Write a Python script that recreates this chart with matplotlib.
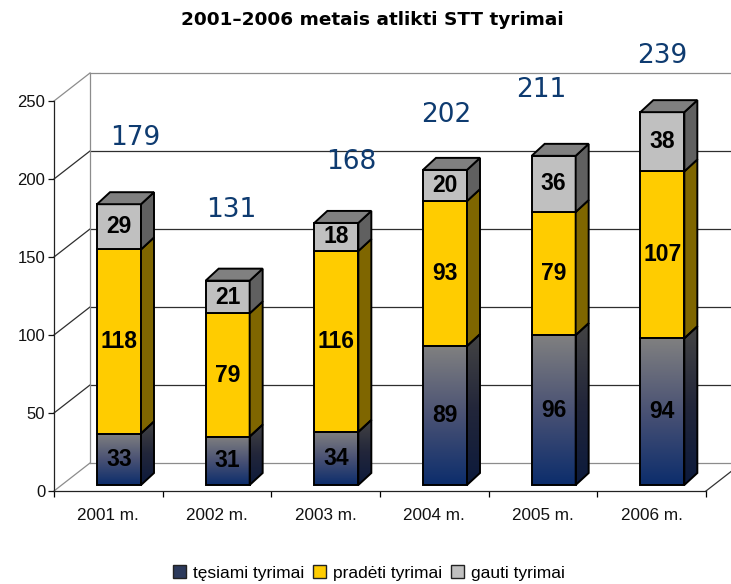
import numpy as np
import matplotlib
matplotlib.use("Agg")
import matplotlib.pyplot as plt
from matplotlib.patches import Polygon, Patch
from matplotlib.colors import LinearSegmentedColormap

# ---------------- data ----------------
categories = ["2001 m.", "2002 m.", "2003 m.", "2004 m.", "2005 m.", "2006 m."]
tesiami = [33, 31, 34, 89, 96, 94]
pradeti = [118, 79, 116, 93, 79, 107]
gauti = [29, 21, 18, 20, 36, 38]
totals = [179, 131, 168, 202, 211, 239]
series_names = ["tęsiami tyrimai", "pradėti tyrimai", "gauti tyrimai"]
title = "2001–2006 metais atlikti STT tyrimai"
yticks = [0, 50, 100, 150, 200, 250]

# label placement (category units / value units)
total_label_x = [0.745, 1.629, 2.733, 3.607, 4.482, 5.595]
total_label_y = [226, 180, 211, 241, 257, 279]

# ---------------- figure ----------------
W, H = 731, 584
fig = plt.figure(figsize=(W / 100, H / 100), dpi=100)
fig.patch.set_facecolor("white")
ax = fig.add_axes([54 / W, (H - 491) / H, 652 / W, 390 / H])
ax.set_xlim(0, 6)
ax.set_ylim(0, 250)
PX = 6 / 652      # data x per pixel
PY = 250 / 390    # data y per pixel

# 3D wall offsets
WDX, WDY = 36 * PX, 28 * PY
frame_c = "#8c8c8c"
grid_c = "#2e2e2e"
XR = 6 + WDX + 1

for y in yticks:
    c = frame_c if y in (0, 250) else grid_c
    ax.plot([0, WDX], [y, y + WDY], color=c, lw=0.9, clip_on=False, zorder=1)
    ax.plot([WDX, XR], [y + WDY, y + WDY], color=c, lw=0.9, clip_on=False, zorder=1)
ax.plot([WDX, WDX], [WDY, 250 + WDY], color=frame_c, lw=0.9, clip_on=False, zorder=1)
ax.plot([6, 6 + WDX], [0, WDY], color="#333333", lw=0.9, clip_on=False, zorder=1)

# axes styling
for s in ["top", "right"]:
    ax.spines[s].set_visible(False)
ax.spines["left"].set_color("#222222")
ax.spines["bottom"].set_color("#222222")
ax.spines["left"].set_linewidth(0.9)
ax.spines["bottom"].set_linewidth(0.9)
ax.set_yticks(yticks)
ax.tick_params(axis="y", direction="out", length=4.3, width=0.9, pad=2,
               labelsize=12, colors="#111111")
ax.set_xticks(np.arange(6) + 0.5)
ax.set_xticklabels(categories)
ax.set_xticks(np.arange(7), minor=True)
ax.tick_params(axis="x", which="major", length=0, pad=12, labelsize=12.3, colors="#111111")
ax.tick_params(axis="x", which="minor", length=4.3, width=0.9, direction="out")
for lab in ax.get_xticklabels() + ax.get_yticklabels():
    lab.set_fontfamily("Liberation Sans")
ax.patch.set_visible(False)

# bars
BX0 = 43 * PX          # front-left offset within category
BW = 44 * PX           # front width
BY0 = 6 * PY           # front base lift
SDX, SDY = 13 * PX, 12 * PY

grad_front = LinearSegmentedColormap.from_list("gf", ["#0c2d6c", "#4a5274", "#808080"])
grad_side = LinearSegmentedColormap.from_list("gs", ["#0c1a3c", "#22263a", "#444444"])
gradient = np.linspace(0, 1, 256).reshape(-1, 1)


def poly(pts, fc, z):
    p = Polygon(pts, closed=True, facecolor=fc, edgecolor="black", lw=1.4,
                joinstyle="miter", zorder=z, clip_on=False)
    ax.add_patch(p)
    return p


def grad_poly(pts, cmap, z):
    p = Polygon(pts, closed=True, facecolor="none", edgecolor="black", lw=1.4,
                zorder=z + 0.1, clip_on=False)
    ax.add_patch(p)
    xs = [q[0] for q in pts]
    ys = [q[1] for q in pts]
    im = ax.imshow(gradient, cmap=cmap, origin="lower", aspect="auto",
                   extent=[min(xs), max(xs), min(ys), max(ys)], zorder=z,
                   interpolation="bilinear")
    im.set_clip_path(p)


for i in range(6):
    xl = i + BX0
    xr = xl + BW
    base = BY0
    segs = [(tesiami[i], None, None), (pradeti[i], "#ffcc00", "#7f6600"),
            (gauti[i], "#c0c0c0", "#606060")]
    z = 3 + i * 0.01
    for k, (v, fc, sc) in enumerate(segs):
        top = base + v
        front = [(xl, base), (xr, base), (xr, top), (xl, top)]
        side = [(xr, base), (xr + SDX, base + SDY), (xr + SDX, top + SDY), (xr, top)]
        if fc is None:
            grad_poly(front, grad_front, z)
            grad_poly(side, grad_side, z)
        else:
            poly(front, fc, z)
            poly(side, sc, z)
        ax.text((xl + xr) / 2, (base + top) / 2, str(v), ha="center", va="center",
                fontsize=16.5, fontweight="bold", family="Liberation Sans",
                color="black", zorder=z + 0.5)
        base = top
    poly([(xl, base), (xr, base), (xr + SDX, base + SDY), (xl + SDX, base + SDY)],
         "#808080", z + 0.2)

for i in range(6):
    ax.text(total_label_x[i], total_label_y[i], str(totals[i]), ha="center",
            va="center", fontsize=19, color="#0e3b70", family="DejaVu Sans",
            zorder=10, clip_on=False)

fig.text(372 / W, 1 - 20 / H, title, ha="center", va="center", fontsize=13.3,
         fontweight="bold", family="DejaVu Sans", color="black")

handles = [Patch(facecolor="#2c3a5c", edgecolor="#222222", lw=1),
           Patch(facecolor="#ffcc00", edgecolor="#222222", lw=1),
           Patch(facecolor="#c0c0c0", edgecolor="#222222", lw=1)]
leg = fig.legend(handles, series_names, loc="center", ncol=3,
                 bbox_to_anchor=(369 / W, 1 - 573 / H), frameon=False,
                 prop={"family": "Liberation Sans", "size": 12.5},
                 handlelength=0.75, handleheight=0.75, handletextpad=0.4,
                 columnspacing=0.5, borderpad=0.1)

fig.savefig("out.png", dpi=100)
